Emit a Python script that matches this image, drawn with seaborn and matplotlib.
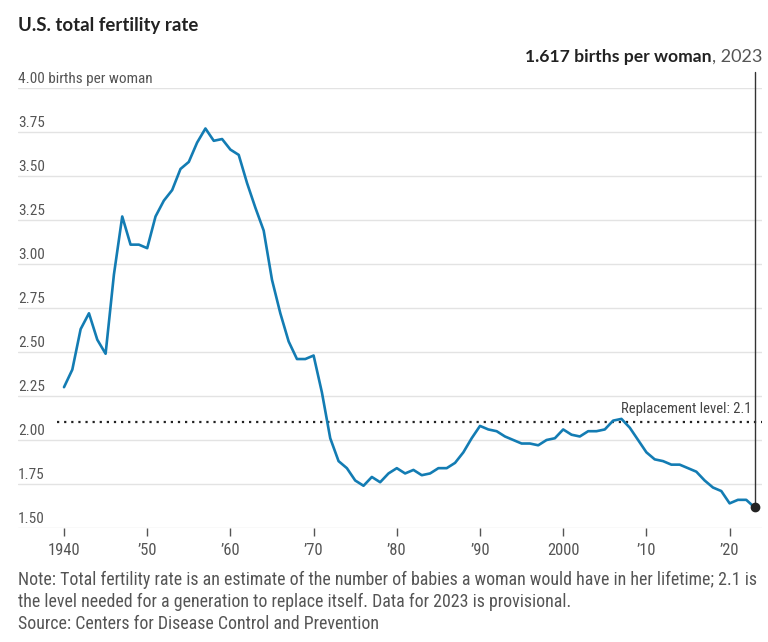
import matplotlib
matplotlib.use("Agg")
import matplotlib.pyplot as plt
import seaborn as sns
import pandas as pd
from matplotlib import transforms, font_manager

years = list(range(1940, 2024))
tfr = [2.30, 2.40, 2.63, 2.72, 2.57, 2.49, 2.94, 3.27, 3.11, 3.11,
       3.09, 3.27, 3.36, 3.42, 3.54, 3.58, 3.69, 3.77, 3.70, 3.71,
       3.65, 3.62, 3.46, 3.32, 3.19, 2.91, 2.72, 2.56, 2.46, 2.46,
       2.48, 2.27, 2.01, 1.88, 1.84, 1.77, 1.74, 1.79, 1.76, 1.81,
       1.84, 1.81, 1.83, 1.80, 1.81, 1.84, 1.84, 1.87, 1.93, 2.01,
       2.08, 2.06, 2.05, 2.02, 2.00, 1.98, 1.98, 1.97, 2.00, 2.01,
       2.06, 2.03, 2.02, 2.05, 2.05, 2.06, 2.11, 2.12, 2.07, 2.00,
       1.93, 1.89, 1.88, 1.86, 1.86, 1.84, 1.82, 1.77, 1.73, 1.71,
       1.64, 1.66, 1.66, 1.617]

x_ticks = [1940, 1950, 1960, 1970, 1980, 1990, 2000, 2010, 2020]
x_tick_labels = ["1940", "\u201950", "\u201960", "\u201970", "\u201980",
                 "\u201990", "2000", "\u201910", "\u201920"]
y_ticks = [1.50, 1.75, 2.00, 2.25, 2.50, 2.75, 3.00, 3.25, 3.50, 3.75, 4.00]
y_tick_labels = ["1.50", "1.75", "2.00", "2.25", "2.50", "2.75", "3.00",
                 "3.25", "3.50", "3.75", "4.00 births per woman"]
replacement = 2.1
last_year = 2023
last_value = 1.617

title = "U.S. total fertility rate"
note_lines = [
    "Note: Total fertility rate is an estimate of the number of babies a woman would have in her lifetime; 2.1 is",
    "the level needed for a generation to replace itself. Data for 2023 is provisional.",
    "Source: Centers for Disease Control and Prevention",
]

sns.set_theme(style="white")

# pick a narrow font if available
names = {(f.name, f.stretch) for f in font_manager.fontManager.ttflist}
fam_names = {n for n, _ in names}
narrow_family, narrow_stretch, scale = "Roboto", "normal", 1.0
if "Liberation Sans Narrow" in fam_names:
    narrow_family, scale = "Liberation Sans Narrow", 1.1
elif "Roboto Condensed" in fam_names:
    narrow_family, scale = "Roboto Condensed", 1.1
elif any(n == "DejaVu Sans" and s in ("condensed", "semi-condensed", 600, 500) for n, s in names):
    narrow_family, narrow_stretch, scale = "DejaVu Sans", "condensed", 1.0
elif "Roboto" not in fam_names:
    narrow_family, scale = "DejaVu Sans", 0.95

plt.rcParams["font.family"] = [narrow_family, "DejaVu Sans"]
plt.rcParams["font.stretch"] = narrow_stretch
BOLD = ["Lato", "DejaVu Sans"]
GREY = "#555555"

W, H = 768, 642
fig = plt.figure(figsize=(W / 100, H / 100), dpi=100)
left_px, right_px, top_px, bot_px = 18, 762, 88, 528
ax = fig.add_axes([left_px / W, (H - bot_px) / H, (right_px - left_px) / W, (bot_px - top_px) / H])

df = pd.DataFrame({"year": years, "tfr": tfr})
line_color = "#137cb3"
sns.lineplot(data=df, x="year", y="tfr", ax=ax, color=line_color, linewidth=1.9, zorder=3)

ppy = 8.32
x0 = 1940 - (64 - left_px) / ppy
x1 = x0 + (right_px - left_px) / ppy
ax.set_xlim(x0, x1)
ax.set_ylim(1.50, 4.00)

for s in ax.spines.values():
    s.set_visible(False)

ax.set_yticks(y_ticks)
ax.set_yticklabels(y_tick_labels)
ax.yaxis.grid(True, color="#e3e3e3", linewidth=1.0, zorder=0)
ax.tick_params(axis="y", length=0, pad=0, labelsize=10.0 * scale, labelcolor=GREY)
for lab in ax.get_yticklabels():
    lab.set_horizontalalignment("left")
    lab.set_verticalalignment("bottom")
    lab.set_transform(lab.get_transform() + transforms.ScaledTranslation(0, 2 / 100, fig.dpi_scale_trans))

ax.set_xticks(x_ticks)
ax.set_xticklabels(x_tick_labels)
ax.tick_params(axis="x", bottom=True, length=6, width=1, color="#555555",
               pad=5, labelsize=10.8 * scale, labelcolor=GREY)
ax.set_xlabel("")
ax.set_ylabel("")

# replacement line
ax.axhline(replacement, xmin=(57 - left_px) / (right_px - left_px), xmax=1.0,
           linestyle=(0, (1, 2.2)), color="#222222", linewidth=1.6, zorder=2)
ax.text(2022.6, replacement + 0.035, "Replacement level: 2.1", ha="right", va="bottom",
        fontsize=9.6 * scale, color="#444444")

# endpoint + vertical line
ax.plot([last_year, last_year], [last_value, 4.09], color="#333333", linewidth=1.0,
        zorder=4, clip_on=False)
ax.scatter([last_year], [last_value], s=36, color="#222222", zorder=5, clip_on=False)

t2 = fig.text(762 / W, 1 - 57 / H, ", 2023", ha="right", va="center",
              fontsize=13, color=GREY, family=BOLD)
fig.canvas.draw()
ax.annotate("1.617 births per woman", xy=(0, 0.5), xycoords=t2, ha="right", va="center",
            fontsize=12.6, fontweight="bold", color="#222222", family=BOLD,
            annotation_clip=False)

fig.text(18 / W, 1 - 25 / H, title, ha="left", va="center", fontsize=13.4,
         fontweight="bold", color="#222222", family=BOLD)

for i, line in enumerate(note_lines):
    fig.text(18 / W, 1 - (580 + 22 * i) / H, line, ha="left", va="center",
             fontsize=11.7 * scale, color=GREY)

fig.savefig("out.png", dpi=100)
